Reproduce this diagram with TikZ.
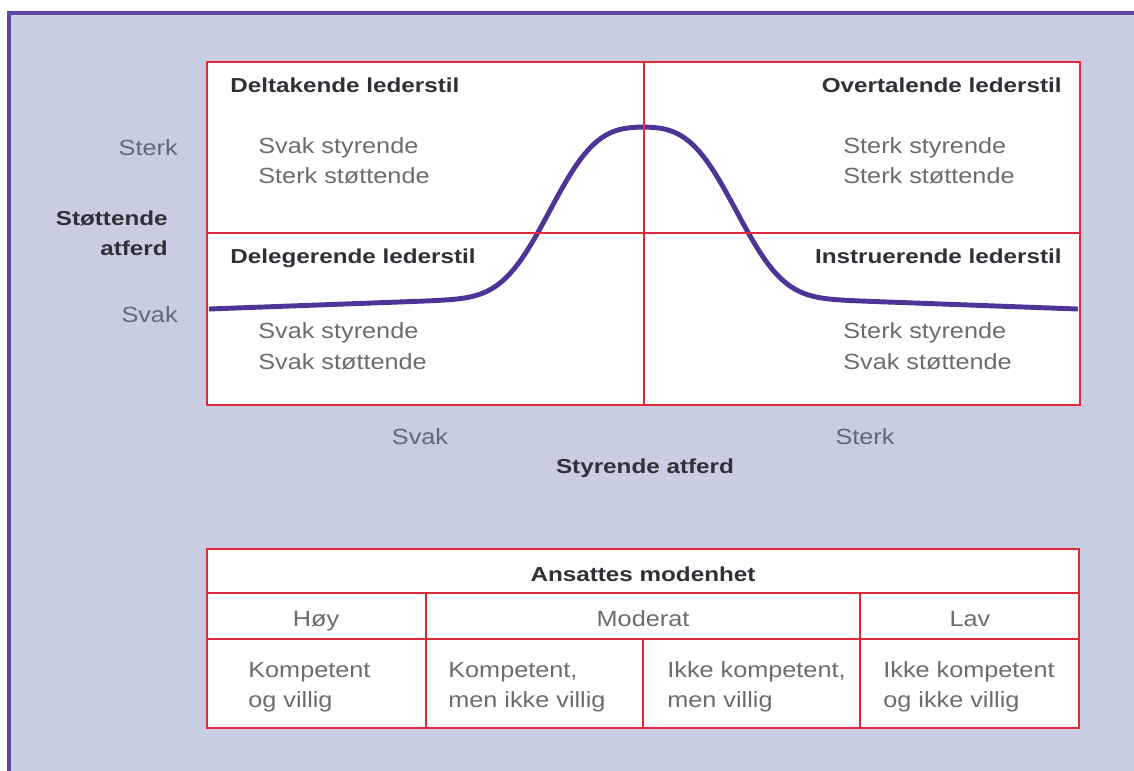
\documentclass[tikz,border=0pt]{standalone}
\usepackage{fontspec}
\setmainfont{Liberation Sans}[FakeStretch=1.15]
\newfontfamily\headfont{Liberation Sans}[FakeStretch=1.2]

\definecolor{lavender}{RGB}{200,205,226}
\definecolor{framepurple}{RGB}{95,70,160}
\definecolor{curvepurple}{RGB}{78,52,150}
\definecolor{boxred}{RGB}{222,42,58}
\definecolor{labelgray}{RGB}{108,108,112}
\definecolor{axisgray}{RGB}{98,103,122}
\definecolor{headgray}{RGB}{48,48,54}

\begin{document}
\begin{tikzpicture}[x=0.02cm, y=-0.02cm,
        redline/.style={draw=boxred, line width=1.5pt},
        label/.style={inner sep=0pt, text=labelgray, font={\fontsize{12.5}{15}\selectfont}},
        axislabel/.style={label, text=axisgray},
        heading/.style={inner sep=0pt, text=headgray, font={\headfont\bfseries\fontsize{11.5}{14}\selectfont}},
        curve/.style={draw=curvepurple, line width=2.8pt}]
        \useasboundingbox (0,0) rectangle (1134,771);
        \fill[white] (0,0) rectangle (1134,771);
        \fill[lavender] (9,13) rectangle (1134,771);
        \draw[framepurple, line width=2.4pt] (7,13) -- (1134,13);
        \draw[framepurple, line width=2.4pt] (9,13) -- (9,771);

        \coordinate (box_nw) at (207,62);
        \coordinate (box_se) at (1080,405);
        \fill[white] (box_nw) rectangle (box_se);
        \draw[curve] plot[domain=209:1078, samples=200]
            (\x, {309 - 16*(1-abs(\x-643)/434) - 166*exp(-((abs(\x-643)/107)^3))});
        \draw[redline] (box_nw) rectangle (box_se);
        \draw[redline] (644,62) -- (644,405);
        \draw[redline] (207,233) -- (1080,233);

        \node (deltakende) at (230,92) [anchor=base west, heading] {Deltakende lederstil};
        \node (deltakende_a) at (258,153) [anchor=base west, label] {Svak styrende};
        \node (deltakende_b) at (258,183) [anchor=base west, label] {Sterk støttende};
        \node (overtalende) at (1062,92) [anchor=base east, heading] {Overtalende lederstil};
        \node (overtalende_a) at (843,153) [anchor=base west, label] {Sterk styrende};
        \node (overtalende_b) at (843,183) [anchor=base west, label] {Sterk støttende};
        \node (delegerende) at (230,263) [anchor=base west, heading] {Delegerende lederstil};
        \node (delegerende_a) at (258,338) [anchor=base west, label] {Svak styrende};
        \node (delegerende_b) at (258,369) [anchor=base west, label] {Svak støttende};
        \node (instruerende) at (1062,263) [anchor=base east, heading] {Instruerende lederstil};
        \node (instruerende_a) at (843,338) [anchor=base west, label] {Sterk styrende};
        \node (instruerende_b) at (843,369) [anchor=base west, label] {Svak støttende};

        \node (sterk_y) at (178,155) [anchor=base east, axislabel] {Sterk};
        \node (svak_y) at (178,322) [anchor=base east, axislabel] {Svak};
        \node (stottende_y) at (168,225) [anchor=base east, heading] {Støttende};
        \node (atferd_y) at (168,255) [anchor=base east, heading] {atferd};
        \node (svak_x) at (420,444) [anchor=base, axislabel] {Svak};
        \node (sterk_x) at (865,444) [anchor=base, axislabel] {Sterk};
        \node (styrende_x) at (645,473) [anchor=base, heading] {Styrende atferd};

        \coordinate (table_nw) at (207,549);
        \coordinate (table_se) at (1079,728);
        \fill[white] (table_nw) rectangle (table_se);
        \draw[redline] (table_nw) rectangle (table_se);
        \draw[redline] (207,593) -- (1079,593);
        \draw[redline] (207,639) -- (1079,639);
        \draw[redline] (426,593) -- (426,728);
        \draw[redline] (860,593) -- (860,728);
        \draw[redline] (643,639) -- (643,728);

        \node (modenhet) at (643,581) [anchor=base, heading] {Ansattes modenhet};
        \node (hoy) at (316,626) [anchor=base, label] {Høy};
        \node (moderat) at (643,626) [anchor=base, label] {Moderat};
        \node (lav) at (970,626) [anchor=base, label] {Lav};
        \node (hoy_a) at (248,677) [anchor=base west, label] {Kompetent};
        \node (hoy_b) at (248,707) [anchor=base west, label] {og villig};
        \node (moderat1_a) at (448,677) [anchor=base west, label] {Kompetent,};
        \node (moderat1_b) at (448,707) [anchor=base west, label] {men ikke villig};
        \node (moderat2_a) at (667,677) [anchor=base west, label] {Ikke kompetent,};
        \node (moderat2_b) at (667,707) [anchor=base west, label] {men villig};
        \node (lav_a) at (883,677) [anchor=base west, label] {Ikke kompetent};
        \node (lav_b) at (883,707) [anchor=base west, label] {og ikke villig};
    \end{tikzpicture}
\end{document}
